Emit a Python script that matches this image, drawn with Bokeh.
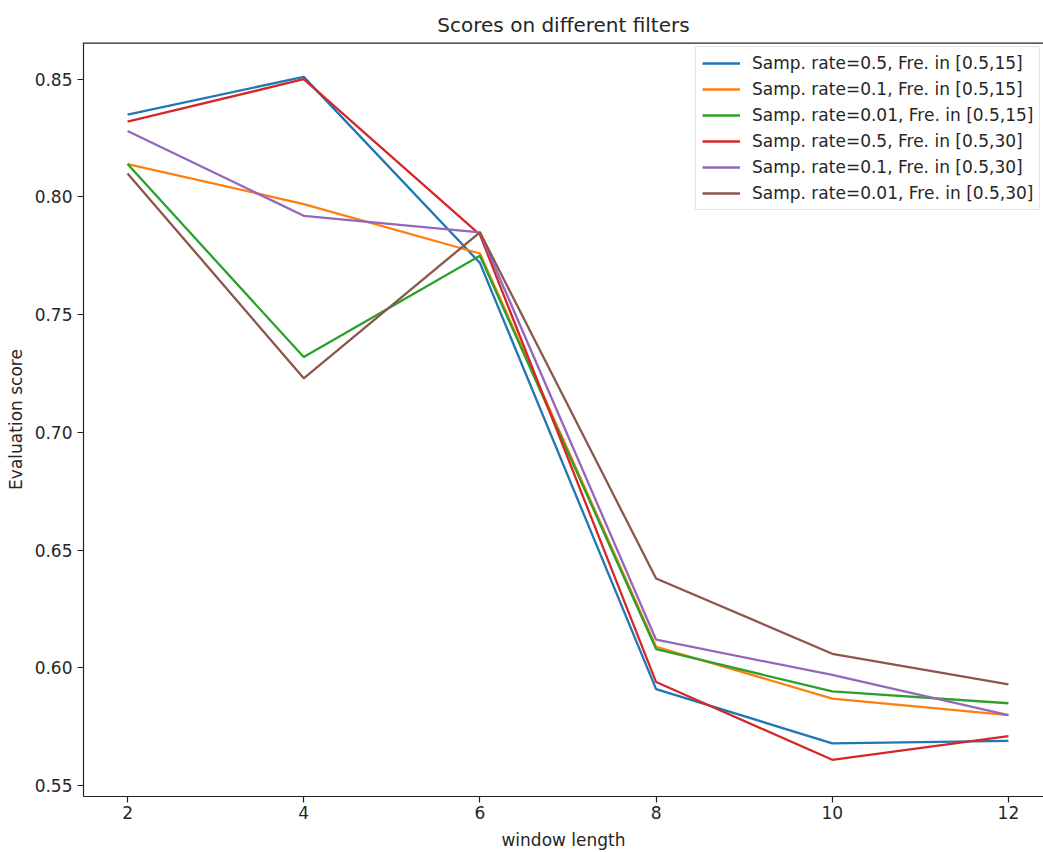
from bokeh.plotting import figure
from bokeh.models import Range1d, FixedTicker, Span, Legend, CustomJSTickFormatter
from bokeh.embed import file_html
from bokeh.resources import INLINE

window = [2, 4, 6, 8, 10, 12]
labels = [
    "Samp. rate=0.5, Fre. in [0.5,15]",
    "Samp. rate=0.1, Fre. in [0.5,15]",
    "Samp. rate=0.01, Fre. in [0.5,15]",
    "Samp. rate=0.5, Fre. in [0.5,30]",
    "Samp. rate=0.1, Fre. in [0.5,30]",
    "Samp. rate=0.01, Fre. in [0.5,30]",
]
s_05_15 = [0.835, 0.851, 0.772, 0.591, 0.568, 0.569]
s_01_15 = [0.814, 0.797, 0.776, 0.609, 0.587, 0.580]
s_001_15 = [0.814, 0.732, 0.775, 0.608, 0.590, 0.585]
s_05_30 = [0.832, 0.850, 0.784, 0.594, 0.561, 0.571]
s_01_30 = [0.828, 0.792, 0.785, 0.612, 0.597, 0.580]
s_001_30 = [0.810, 0.723, 0.785, 0.638, 0.606, 0.593]
series = [s_05_15, s_01_15, s_001_15, s_05_30, s_01_30, s_001_30]
colors = ["#1f77b4", "#ff7f0e", "#2ca02c", "#d62728", "#9467bd", "#8c564b"]
x_ticks = [2, 4, 6, 8, 10, 12]
y_ticks = [0.55, 0.60, 0.65, 0.70, 0.75, 0.80, 0.85]

FONT = "DejaVu Sans"
TXT = "#262626"

p = figure(width=1043, height=852, output_backend="svg", toolbar_location=None,
           x_range=Range1d(1.5, 12.398), y_range=Range1d(0.5454, 0.8656),
           title="Scores on different filters",
           min_border_left=83, min_border_right=0, min_border_top=42, min_border_bottom=54)

p.title.text_font = FONT
p.title.text_font_size = "20px"
p.title.text_font_style = "normal"
p.title.text_color = TXT
p.title.align = "center"
p.title.standoff = 11
p.title.offset = 4

p.outline_line_color = None
p.xgrid.visible = False
p.ygrid.visible = False
p.background_fill_color = "white"
p.border_fill_color = "white"

for ax in (p.xaxis[0], p.yaxis[0]):
    ax.axis_line_color = "#222222"
    ax.axis_line_width = 1.2
    ax.major_tick_line_color = "#222222"
    ax.major_tick_line_width = 1.2
    ax.major_tick_out = 6
    ax.major_tick_in = 0
    ax.minor_tick_line_color = None
    ax.major_label_text_font = FONT
    ax.major_label_text_font_size = "17px"
    ax.major_label_text_color = TXT
    ax.axis_label_text_font = FONT
    ax.axis_label_text_font_size = "17px"
    ax.axis_label_text_font_style = "normal"
    ax.axis_label_text_color = TXT

p.xaxis.ticker = FixedTicker(ticks=x_ticks)
p.yaxis.ticker = FixedTicker(ticks=y_ticks)
p.yaxis.formatter = CustomJSTickFormatter(code="return tick.toFixed(2);")
p.xaxis.axis_label = "window length"
p.yaxis.axis_label = "Evaluation score"
p.xaxis.major_label_standoff = 3
p.xaxis.axis_label_standoff = 8
p.yaxis.major_label_standoff = 5
p.yaxis.axis_label_standoff = 6

# top spine
p.add_layout(Span(location=0.8656, dimension="width", line_color="#222222", line_width=2.4))

items = []
for lab, ys, c in zip(labels, series, colors):
    r = p.line(window, ys, line_color=c, line_width=2.3)
    items.append((lab, [r]))

legend = Legend(items=items, location=(612, 586))
legend.label_text_font = FONT
legend.label_text_font_size = "17px"
legend.label_text_color = TXT
legend.glyph_width = 38
legend.glyph_height = 20
legend.label_height = 20
legend.label_standoff = 12
legend.spacing = 6
legend.padding = 6
legend.margin = 0
legend.border_line_color = "#cccccc"
legend.border_line_width = 1
legend.background_fill_alpha = 0.8
p.add_layout(legend)

open("out.html", "w").write(file_html(p, INLINE))
